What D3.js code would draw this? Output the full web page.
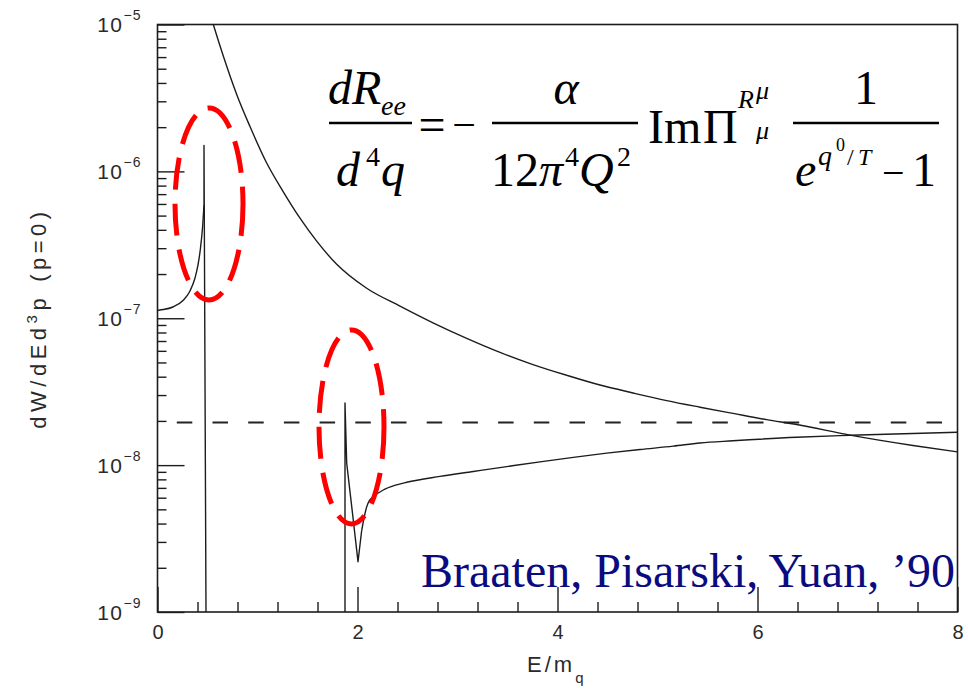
<!DOCTYPE html>
<html>
<head>
<meta charset="utf-8">
<script src="https://cdn.jsdelivr.net/npm/d3@7"></script>
<style>
  html, body { margin: 0; padding: 0; background: #fff; }
  svg { display: block; }
</style>
</head>
<body>
<svg id="chart" width="968" height="689"></svg>
<script>
// ---- data: soft dilepton rate dW/dEd^3p at p = 0 versus E/m_q ----

// falling curve (bare quark rate)
const bornE    = [0.558, 0.658, 0.792, 0.925, 1.092, 1.258, 1.425, 1.592, 1.792, 2.092, 2.425, 2.755, 3.092, 3.425, 3.755, 4.092, 4.425, 4.755, 5.092, 5.425, 5.755, 6.092, 6.392, 6.925, 7.555, 8.0];
const bornRate = [1e-5, 6.10e-6, 3.34e-6, 2.02e-6, 1.14e-6, 7.26e-7, 4.80e-7, 3.35e-7, 2.33e-7, 1.60e-7, 1.21e-7, 9.31e-8, 7.30e-8, 5.86e-8, 4.84e-8, 4.09e-8, 3.51e-8, 3.10e-8, 2.75e-8, 2.48e-8, 2.25e-8, 2.04e-8, 1.89e-8, 1.60e-8, 1.36e-8, 1.23e-8];

// resummed rate below the first Van Hove singularity
const lowE    = [0.0, 0.025, 0.155, 0.255, 0.325, 0.375, 0.405, 0.43, 0.45, 0.465];
const lowRate = [1.13e-7, 1.138e-7, 1.193e-7, 1.321e-7, 1.533e-7, 1.879e-7, 2.305e-7, 3.01e-7, 4.12e-7, 5.90e-7];

// first singular spike
const spike1E    = [0.465, 0.465, 0.485];
const spike1Rate = [5.90e-7, 1.5e-6, 1e-9];

// second spike and the dip near E = 2 m_q
const dipE    = [1.875, 1.875, 1.892, 1.95, 2.005, 2.042];
const dipRate = [1e-9, 2.65e-8, 1.03e-8, 4.7e-9, 2.2e-9, 3.6e-9];

// resummed rate above the dip
const highE    = [2.042, 2.092, 2.12, 2.158, 2.258, 2.38, 2.492, 2.825, 3.158, 3.492, 3.825, 4.158, 4.492, 4.825, 5.158, 5.425, 5.755, 6.392, 6.925, 8.0];
const highRate = [3.6e-9, 5.2e-9, 5.75e-9, 6.1e-9, 6.77e-9, 7.3e-9, 7.65e-9, 8.38e-9, 9.05e-9, 9.77e-9, 1.053e-8, 1.130e-8, 1.206e-8, 1.277e-8, 1.346e-8, 1.415e-8, 1.464e-8, 1.549e-8, 1.598e-8, 1.673e-8];

// dashed reference level
const dashE    = [0.193, 7.845];
const dashRate = [1.95e-8, 1.95e-8];

// axis ticks
const xMajor = [0, 2, 4, 6, 8];
const xMinor = [0.4, 0.8, 1.2, 1.6, 2.4, 2.8, 3.2, 3.6, 4.4, 4.8, 5.2, 5.6, 6.4, 6.8, 7.2, 7.6];
const yMajor = [1e-9, 1e-8, 1e-7, 1e-6, 1e-5];
const yExpLabels = ["\u22129", "\u22128", "\u22127", "\u22126", "\u22125"];
const yMantissa = [2, 3, 4, 5, 6, 7, 8, 9];

// highlighted features: [E, rate] centres
const ringCentres = [[0.515, 6.0e-7], [1.94, 1.82e-8]];
const ringRadii   = [[34, 96], [32.5, 97]];

// ---- layout ----
const W = 968, H = 689;
const plotL = 157.5, plotR = 957.5, plotT = 24.5, plotB = 612;
const ink = "#1c1c1c";
const sans = "'Liberation Sans', Arial, Helvetica, sans-serif";
const serif = "'Liberation Serif', 'Times New Roman', Times, serif";

const svg = d3.select("#chart");
svg.append("rect").attr("width", W).attr("height", H).attr("fill", "#fff");

const x = d3.scaleLinear().domain([0, 8]).range([plotL, plotR]);
const y = d3.scaleLog().domain([1e-9, 1e-5]).range([plotB, plotT]);

svg.append("clipPath").attr("id", "plot-clip")
  .append("rect").attr("x", plotL).attr("y", plotT)
  .attr("width", plotR - plotL).attr("height", plotB - plotT);

// frame
svg.append("rect")
  .attr("x", plotL).attr("y", plotT)
  .attr("width", plotR - plotL).attr("height", plotB - plotT)
  .attr("fill", "none").attr("stroke", ink).attr("stroke-width", 1.6);

// x axis: long ticks with labels, short ticks between
const gx = svg.append("g").attr("transform", `translate(0,${plotB})`)
  .call(d3.axisBottom(x).tickValues(xMajor).tickSize(-25).tickPadding(13).tickFormat(d3.format("d")));
const gxMinor = svg.append("g").attr("transform", `translate(0,${plotB})`)
  .call(d3.axisBottom(x).tickValues(xMinor).tickSize(-10).tickFormat(""));

// y axis: decades with labels, 2..9 minor ticks
const yMinor = [];
yMajor.slice(0, -1).forEach(dec => yMantissa.forEach(m => yMinor.push(m * dec)));
const gy = svg.append("g").attr("transform", `translate(${plotL},0)`)
  .call(d3.axisLeft(y).tickValues(yMajor).tickSize(-27).tickPadding(16).tickFormat(() => "10"));
const gyMinor = svg.append("g").attr("transform", `translate(${plotL},0)`)
  .call(d3.axisLeft(y).tickValues(yMinor).tickSize(-9).tickFormat(""));

[gx, gxMinor, gy, gyMinor].forEach(g => {
  g.select(".domain").remove();
  g.selectAll(".tick line").attr("stroke", ink).attr("stroke-width", 1.4);
  g.selectAll("text").attr("font-family", sans).attr("fill", "#2a2a2a");
});
gx.selectAll("text").attr("font-size", 20);
gy.selectAll(".tick text")
  .attr("font-size", 21).attr("dy", 7).attr("letter-spacing", 1.5)
  .each(function(d, i) {
    d3.select(this).append("tspan")
      .attr("dy", -12).attr("font-size", 14).attr("letter-spacing", 1)
      .text(yExpLabels[i]);
  });

// axis titles
const yTitle = svg.append("text")
  .attr("transform", "translate(46,318) rotate(-90)")
  .attr("text-anchor", "middle")
  .attr("font-family", sans).attr("font-size", 22)
  .attr("letter-spacing", 4.5).attr("fill", "#2a2a2a");
yTitle.append("tspan").text("dW/dEd");
yTitle.append("tspan").attr("dy", -9).attr("font-size", 15).text("3");
yTitle.append("tspan").attr("dy", 9).text("p");
yTitle.append("tspan").attr("dx", 12).text("(p=0)");

const xTitle = svg.append("text")
  .attr("x", 527).attr("y", 672)
  .attr("font-family", sans).attr("font-size", 22)
  .attr("letter-spacing", 3).attr("fill", "#2a2a2a");
xTitle.append("tspan").text("E/m");
xTitle.append("tspan").attr("dy", 11).attr("font-size", 15).text("q");

// ---- curves ----
const plot = svg.append("g").attr("clip-path", "url(#plot-clip)");
const smooth = d3.line().x(d => x(d[0])).y(d => y(d[1])).curve(d3.curveMonotoneX);
const straight = d3.line().x(d => x(d[0])).y(d => y(d[1]));

plot.append("path").attr("d", straight(d3.zip(dashE, dashRate)))
  .attr("fill", "none").attr("stroke", "#222").attr("stroke-width", 2)
  .attr("stroke-dasharray", "15.5 20.2");

[
  [smooth, bornE, bornRate],
  [smooth, lowE, lowRate],
  [straight, spike1E, spike1Rate],
  [straight, dipE, dipRate],
  [smooth, highE, highRate]
].forEach(([gen, es, rs]) => {
  plot.append("path").attr("d", gen(d3.zip(es, rs)))
    .attr("fill", "none").attr("stroke", ink)
    .attr("stroke-width", 1.4).attr("stroke-linejoin", "round");
});

// red dashed rings round the two singular features
svg.selectAll("ellipse.ring").data(ringCentres).join("ellipse")
  .attr("class", "ring")
  .attr("cx", d => x(d[0])).attr("cy", d => y(d[1]))
  .attr("rx", (d, i) => ringRadii[i][0]).attr("ry", (d, i) => ringRadii[i][1])
  .attr("fill", "none").attr("stroke", "#ff0000")
  .attr("stroke-width", 5).attr("stroke-dasharray", "32 14");

// ---- rate formula ----
const eq = svg.append("g").attr("font-family", serif).attr("fill", "#000");
function put(str, px, py, size, italic, anchor) {
  return eq.append("text").attr("x", px).attr("y", py)
    .attr("font-size", size)
    .attr("font-style", italic ? "italic" : "normal")
    .attr("text-anchor", anchor || "start").text(str);
}
function bar(x1, x2) {
  eq.append("line").attr("x1", x1).attr("x2", x2).attr("y1", 123).attr("y2", 123)
    .attr("stroke", "#000").attr("stroke-width", 2.4);
}
// dR_ee / d^4q
put("dR", 328, 104, 48, true);
put("ee", 381, 115, 28, true);
bar(329, 412);
put("d", 336, 186, 48, true);
put("4", 366, 166, 28, false);
put("q", 381, 186, 48, true);
// = −
put("=", 432, 141, 48, false, "middle");
put("\u2212", 464, 139, 42, false, "middle");
// α / 12π^4 Q^2
put("\u03b1", 566, 104, 48, true, "middle");
bar(492, 638);
put("12", 491, 186, 48, false);
put("\u03c0", 539, 186, 48, true);
put("4", 565, 166, 28, false);
put("Q", 579, 186, 48, true);
put("2", 617, 166, 28, false);
// Im Π^{R μ}_μ
put("Im", 648, 143, 48, false);
put("\u03a0", 703, 143, 48, false);
put("R", 738, 108, 26, true);
put("\u03bc", 756, 99, 26, true);
put("\u03bc", 756, 139, 26, true);
// 1 / (e^{q^0/T} − 1)
put("1", 866, 104, 48, false, "middle");
bar(793, 939);
put("e", 795, 186, 48, true);
put("q", 818, 165, 28, true);
put("0", 836, 151, 18, false);
put("/", 847, 165, 24, false);
put("T", 858, 165, 24, true);
put("\u2212", 882, 186, 40, false);
put("1", 912, 186, 48, false);

// ---- citation ----
svg.append("text").attr("x", 421).attr("y", 587)
  .attr("font-family", serif).attr("font-size", 48).attr("fill", "#0b0b80")
  .text("Braaten, Pisarski, Yuan, \u201990");
</script>
</body>
</html>
